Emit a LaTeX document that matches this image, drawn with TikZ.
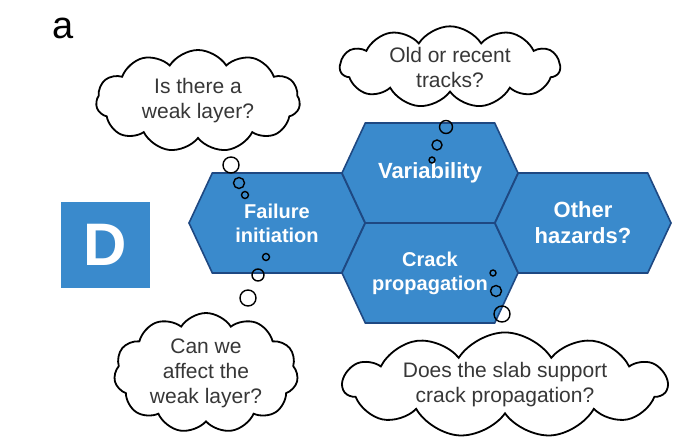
\documentclass[tikz,border=0pt]{standalone}
\usepackage{fontspec}
\setmainfont{Liberation Sans}
\usetikzlibrary{positioning, shapes.symbols}
\definecolor{hexblue}{RGB}{58,138,204}
\definecolor{hexline}{RGB}{30,72,130}
\definecolor{thinkgray}{RGB}{55,55,55}

\begin{document}
\begin{tikzpicture}[
  x=0.5pt, y=-0.5pt,
  hexa/.style={
    signal, signal to=east and west, signal pointer angle=130,
    draw=hexline, fill=hexblue, line width=0.8pt,
    minimum width=88pt, minimum height=50pt, inner sep=0pt,
    align=center, text=white,
    font=\fontsize{10}{12}\selectfont\bfseries
  },
  bighexa/.style={hexa, font=\fontsize{11}{13}\selectfont\bfseries},
  thought/.style={
    cloud, cloud puffs=11, cloud puff arc=115, cloud ignores aspect,
    draw=black, line width=0.9pt, fill=white, inner sep=0pt,
    align=center, text=thinkgray,
    font=\fontsize{10.5}{12.5}\selectfont
  },
  bubble/.style={circle, draw=black, line width=0.7pt, inner sep=0pt}
]
  \useasboundingbox (0,0) rectangle (683,438);

  \node[font=\fontsize{19}{22}\selectfont, inner sep=0pt] (lbl) at (63,28) {a};

  % hexagons
  \node[hexa]    (fail)  at (277,223) {Failure\\initiation};
  \node[bighexa] (var)   at (430,173) {\raisebox{-2pt}{Variability}};
  \node[hexa]    (crack) at (430,273) {Crack\\propagation};
  \node[bighexa] (other) at (583,223) {Other\\hazards?};

  \node[fill=hexblue, minimum width=44.5pt, minimum height=43pt, text=white,
        font=\fontsize{30}{30}\selectfont\bfseries] (dbox) at (105,245) {D};

  % thought clouds
  \node[thought, minimum width=102pt, minimum height=51pt]  (weak)   at (198,101) {Is there a\\weak layer?};
  \node[thought, minimum width=110pt, minimum height=39pt]  (tracks) at (450,67)  {Old or recent\\tracks?};
  \node[thought, minimum width=92pt,  minimum height=60pt]  (affect) at (206,373) {Can we\\affect the\\weak layer?};
  \node[thought, minimum width=162pt, minimum height=52pt]  (slab)   at (505,385) {Does the slab support\\crack propagation?};

  % bubbles
  \foreach \x/\y/\s [count=\i] in {231/165/8, 239/183/5.5, 245/195/3.5,
                                   266/257/3.5, 258/275/6, 248/298/8,
                                   446/127/6.5, 437/145/5, 432/160/3,
                                   493/273/3, 496/291/5.5, 502/314/8}
    \node[bubble, minimum size=\s pt] (bub\i) at (\x,\y) {};
\end{tikzpicture}
\end{document}
